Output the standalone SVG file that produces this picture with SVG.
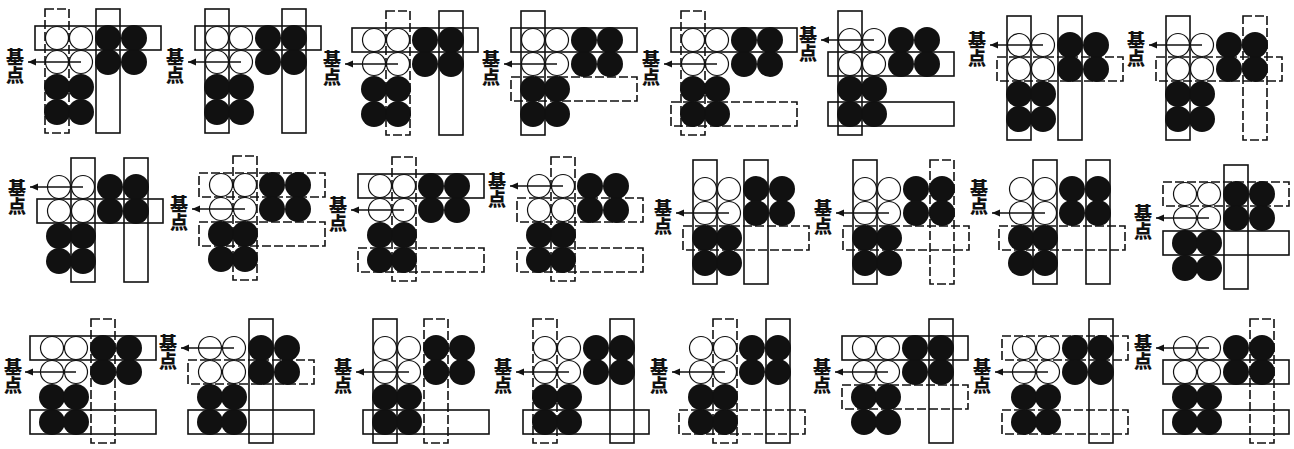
<svg xmlns="http://www.w3.org/2000/svg" width="1294" height="449" viewBox="0 0 1294 449">
<style>
.w{fill:#fff;stroke:#111;stroke-width:1.2}
.b{fill:#111}
.s{fill:none;stroke:#111;stroke-width:1.6}
.d{fill:none;stroke:#111;stroke-width:1.6;stroke-dasharray:9 3}
.a{stroke:#111;stroke-width:1.4;marker-end:url(#ah)}
.t{font-family:"Noto Sans CJK SC","Noto Sans CJK JP",sans-serif;font-weight:900;font-size:18px;fill:#111;writing-mode:vertical-rl;text-anchor:start}
</style>
<defs>
<marker id="ah" markerUnits="userSpaceOnUse" markerWidth="9" markerHeight="8" refX="8" refY="3.5" orient="auto"><path d="M0,0 L8,3.5 L0,7 z" fill="#111"/></marker>
<g id="g">
<circle class="w" cx="0" cy="0" r="11.5"/><circle class="w" cx="24" cy="0" r="11.5"/>
<circle class="w" cx="0" cy="24" r="11.5"/><circle class="w" cx="24" cy="24" r="11.5"/>
<circle class="b" cx="51" cy="0" r="13"/><circle class="b" cx="77" cy="0" r="13"/>
<circle class="b" cx="51" cy="24" r="13"/><circle class="b" cx="77" cy="24" r="13"/>
<circle class="b" cx="0" cy="49" r="13"/><circle class="b" cx="24" cy="49" r="13"/>
<circle class="b" cx="0" cy="74" r="13"/><circle class="b" cx="24" cy="74" r="13"/>
</g>
</defs>
<rect width="1294" height="449" fill="#fff"/>

<g id="p1"><use href="#g" x="57" y="38"/><rect class="d" x="45" y="9" width="24" height="124"/><rect class="s" x="96" y="9" width="24" height="124"/><rect class="s" x="35" y="26" width="126" height="24"/><text class="t" x="15" y="48">基点</text></g>
<g id="p2"><use href="#g" x="217" y="38"/><rect class="s" x="205" y="9" width="24" height="124"/><rect class="s" x="282" y="9" width="24" height="124"/><rect class="s" x="195" y="26" width="126" height="24"/><text class="t" x="175" y="48">基点</text></g>
<g id="p3"><use href="#g" x="374" y="40"/><rect class="d" x="386" y="11" width="24" height="124"/><rect class="s" x="439" y="11" width="24" height="124"/><rect class="s" x="352" y="28" width="126" height="24"/><text class="t" x="332" y="50">基点</text></g>
<g id="p4"><use href="#g" x="533" y="40"/><rect class="s" x="521" y="11" width="24" height="124"/><rect class="s" x="511" y="28" width="126" height="24"/><rect class="d" x="511" y="77" width="126" height="24"/><text class="t" x="491" y="50">基点</text></g>
<g id="p5"><use href="#g" x="693" y="40"/><rect class="d" x="681" y="11" width="24" height="124"/><rect class="s" x="671" y="28" width="126" height="24"/><rect class="d" x="671" y="102" width="126" height="24"/><text class="t" x="651" y="50">基点</text></g>
<g id="p6"><use href="#g" x="850" y="40"/><rect class="s" x="838" y="11" width="24" height="124"/><rect class="s" x="828" y="52" width="126" height="24"/><rect class="s" x="828" y="102" width="126" height="24"/><text class="t" x="808" y="26">基点</text></g>
<g id="p7"><use href="#g" x="1019" y="45"/><rect class="s" x="1007" y="16" width="24" height="124"/><rect class="s" x="1058" y="16" width="24" height="124"/><rect class="d" x="997" y="57" width="126" height="24"/><text class="t" x="977" y="31">基点</text></g>
<g id="p8"><use href="#g" x="1178" y="45"/><rect class="s" x="1166" y="16" width="24" height="124"/><rect class="d" x="1243" y="16" width="24" height="124"/><rect class="d" x="1156" y="57" width="126" height="24"/><text class="t" x="1136" y="31">基点</text></g>

<g id="p9"><use href="#g" x="59" y="187"/><rect class="s" x="71" y="158" width="24" height="124"/><rect class="s" x="124" y="158" width="24" height="124"/><rect class="s" x="37" y="199" width="126" height="24"/><text class="t" x="17" y="179">基点</text></g>
<g id="p10"><use href="#g" x="221" y="185"/><rect class="d" x="233" y="156" width="24" height="124"/><rect class="d" x="199" y="173" width="126" height="24"/><rect class="d" x="199" y="222" width="126" height="24"/><text class="t" x="179" y="195">基点</text></g>
<g id="p11"><use href="#g" x="380" y="186"/><rect class="d" x="392" y="157" width="24" height="124"/><rect class="s" x="358" y="174" width="126" height="24"/><rect class="d" x="358" y="248" width="126" height="24"/><text class="t" x="338" y="196">基点</text></g>
<g id="p12"><use href="#g" x="539" y="186"/><rect class="d" x="551" y="157" width="24" height="124"/><rect class="d" x="517" y="198" width="126" height="24"/><rect class="d" x="517" y="248" width="126" height="24"/><text class="t" x="497" y="172">基点</text></g>
<g id="p13"><use href="#g" x="705" y="189"/><rect class="s" x="693" y="160" width="24" height="124"/><rect class="s" x="744" y="160" width="24" height="124"/><rect class="d" x="683" y="226" width="126" height="24"/><text class="t" x="663" y="199">基点</text></g>
<g id="p14"><use href="#g" x="865" y="189"/><rect class="s" x="853" y="160" width="24" height="124"/><rect class="d" x="930" y="160" width="24" height="124"/><rect class="d" x="843" y="226" width="126" height="24"/><text class="t" x="823" y="199">基点</text></g>
<g id="p15"><use href="#g" x="1021" y="189"/><rect class="s" x="1033" y="160" width="24" height="124"/><rect class="s" x="1086" y="160" width="24" height="124"/><rect class="d" x="999" y="226" width="126" height="24"/><text class="t" x="979" y="179">基点</text></g>
<g id="p16"><use href="#g" x="1185" y="194"/><rect class="s" x="1224" y="165" width="24" height="124"/><rect class="d" x="1163" y="182" width="126" height="24"/><rect class="s" x="1163" y="231" width="126" height="24"/><text class="t" x="1143" y="204">基点</text></g>

<g id="p17"><use href="#g" x="52" y="348"/><rect class="d" x="91" y="319" width="24" height="124"/><rect class="s" x="30" y="336" width="126" height="24"/><rect class="s" x="30" y="410" width="126" height="24"/><text class="t" x="13" y="358">基点</text></g>
<g id="p18"><use href="#g" x="210" y="348"/><rect class="s" x="249" y="319" width="24" height="124"/><rect class="d" x="188" y="360" width="126" height="24"/><rect class="s" x="188" y="410" width="126" height="24"/><text class="t" x="168" y="334">基点</text></g>
<g id="p19"><use href="#g" x="385" y="348"/><rect class="s" x="373" y="319" width="24" height="124"/><rect class="d" x="424" y="319" width="24" height="124"/><rect class="s" x="363" y="410" width="126" height="24"/><text class="t" x="343" y="358">基点</text></g>
<g id="p20"><use href="#g" x="545" y="348"/><rect class="d" x="533" y="319" width="24" height="124"/><rect class="s" x="610" y="319" width="24" height="124"/><rect class="s" x="523" y="410" width="126" height="24"/><text class="t" x="503" y="358">基点</text></g>
<g id="p21"><use href="#g" x="701" y="348"/><rect class="d" x="713" y="319" width="24" height="124"/><rect class="s" x="766" y="319" width="24" height="124"/><rect class="d" x="679" y="410" width="126" height="24"/><text class="t" x="659" y="358">基点</text></g>
<g id="p22"><use href="#g" x="864" y="348"/><rect class="s" x="929" y="319" width="24" height="124"/><rect class="s" x="842" y="336" width="126" height="24"/><rect class="d" x="842" y="385" width="126" height="24"/><text class="t" x="822" y="358">基点</text></g>
<g id="p23"><use href="#g" x="1024" y="348"/><rect class="s" x="1089" y="319" width="24" height="124"/><rect class="d" x="1002" y="336" width="126" height="24"/><rect class="d" x="1002" y="410" width="126" height="24"/><text class="t" x="982" y="358">基点</text></g>
<g id="p24"><use href="#g" x="1185" y="348"/><rect class="d" x="1250" y="319" width="24" height="124"/><rect class="s" x="1163" y="360" width="126" height="24"/><rect class="s" x="1163" y="410" width="126" height="24"/><text class="t" x="1143" y="334">基点</text></g>

<g id="connectors">
<line class="a" x1="81" y1="62" x2="28" y2="62"/>
<line class="a" x1="241" y1="62" x2="188" y2="62"/>
<line class="a" x1="398" y1="64" x2="345" y2="64"/>
<line class="a" x1="557" y1="64" x2="504" y2="64"/>
<line class="a" x1="717" y1="64" x2="664" y2="64"/>
<line class="a" x1="874" y1="40" x2="821" y2="40"/>
<line class="a" x1="1043" y1="45" x2="990" y2="45"/>
<line class="a" x1="1202" y1="45" x2="1149" y2="45"/>
<line class="a" x1="83" y1="187" x2="30" y2="187"/>
<line class="a" x1="245" y1="209" x2="192" y2="209"/>
<line class="a" x1="404" y1="210" x2="351" y2="210"/>
<line class="a" x1="563" y1="186" x2="510" y2="186"/>
<line class="a" x1="729" y1="213" x2="676" y2="213"/>
<line class="a" x1="889" y1="213" x2="836" y2="213"/>
<line class="a" x1="1045" y1="213" x2="992" y2="213"/>
<line class="a" x1="1209" y1="218" x2="1156" y2="218"/>
<line class="a" x1="76" y1="372" x2="25" y2="372"/>
<line class="a" x1="234" y1="348" x2="181" y2="348"/>
<line class="a" x1="409" y1="372" x2="356" y2="372"/>
<line class="a" x1="569" y1="372" x2="516" y2="372"/>
<line class="a" x1="725" y1="372" x2="672" y2="372"/>
<line class="a" x1="888" y1="372" x2="835" y2="372"/>
<line class="a" x1="1048" y1="372" x2="995" y2="372"/>
<line class="a" x1="1209" y1="348" x2="1156" y2="348"/>
</g>
</svg>
